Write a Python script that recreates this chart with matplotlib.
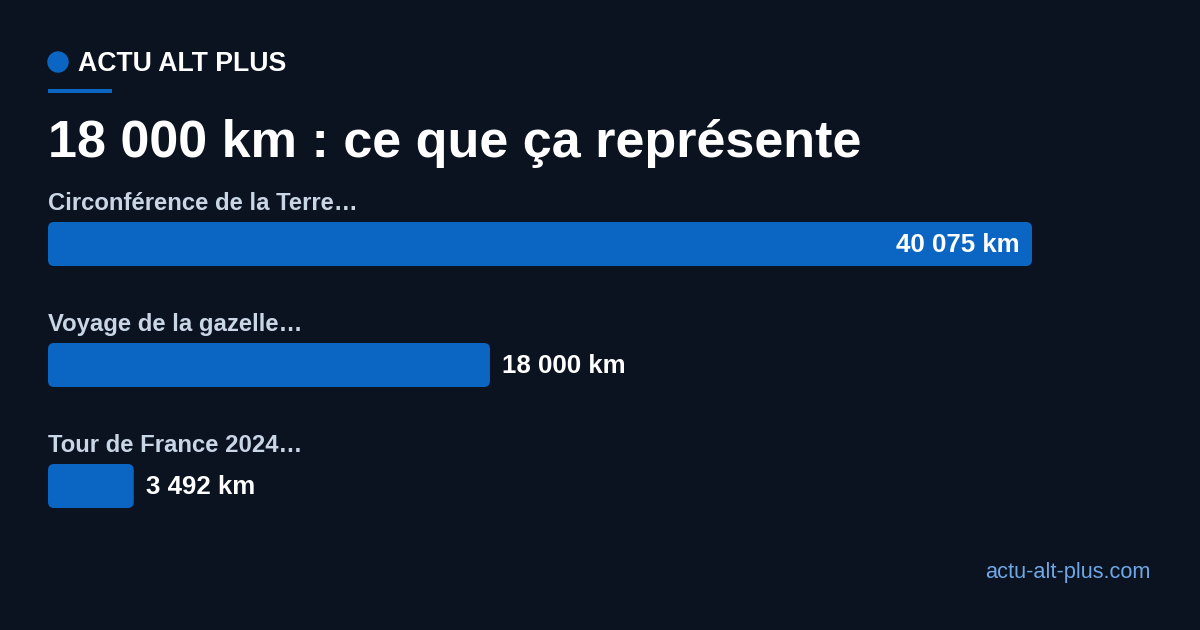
import numpy as np
import matplotlib
matplotlib.use("Agg")
import matplotlib.pyplot as plt
from matplotlib.patches import FancyBboxPatch, Ellipse, Rectangle

plt.rcParams['font.family'] = ['Liberation Sans', 'DejaVu Sans']

labels = ["Circonférence de la Terre…", "Voyage de la gazelle…", "Tour de France 2024…"]
values = [40075, 18000, 3492]
value_labels = ["40 075 km", "18 000 km", "3 492 km"]

BG = "#0b1220"
BAR = "#0b66c3"
LABEL = "#c9d6e6"

W, H = 1200, 630
fig = plt.figure(figsize=(W / 100, H / 100), dpi=100, facecolor=BG)
ax = fig.add_axes([0, 0, 1, 1])
ax.set_facecolor(BG)
ax.axis("off")

# x axis in km: 0 at 48 px, max value at 1032 px; y axis in pixels
left, right = 48, 1032
k = max(values) / (right - left)  # km per pixel
ax.set_xlim(-left * k, (W - left) * k)
ax.set_ylim(H, 0)

# header
fig.add_artist(Ellipse((58 / W, 1 - 62 / H), 20 / W, 20 / H, transform=fig.transFigure,
                       color=BAR))
fig.text(78 / W, 1 - 71 / H, "ACTU ALT PLUS", color="white", fontsize=19.2,
         fontweight="bold", va="baseline", ha="left")
fig.add_artist(Rectangle((48 / W, 1 - 93 / H), 64 / W, 4 / H, transform=fig.transFigure,
                         color=BAR, lw=0))
fig.text(48 / W, 1 - 157 / H, "18 000 km : ce que ça représente", color="white",
         fontsize=37.5, fontweight="bold", va="baseline", ha="left")

bar_top = [222, 343, 464]
bar_h = 44
r = 6 * k
for lab, v, vl, top in zip(labels, values, value_labels, bar_top):
    ax.text(0, top - 12, lab, color=LABEL, fontsize=17.2, fontweight="bold",
            va="baseline", ha="left")
    ax.add_patch(FancyBboxPatch((0, top), v, bar_h,
                                boxstyle=f"round,pad=0,rounding_size={r}",
                                mutation_aspect=1 / k, fc=BAR, ec="none"))
    if v > 0.5 * max(values):
        ax.text(v - 12 * k, top + 30, vl, color="white", fontsize=18.6,
                fontweight="bold", va="baseline", ha="right")
    else:
        ax.text(v + 12 * k, top + 30, vl, color="white", fontsize=18.6,
                fontweight="bold", va="baseline", ha="left")

fig.text(1151 / W, 1 - 578 / H, "actu-alt-plus.com", color="#6fa8e6", fontsize=15.7,
         va="baseline", ha="right")

fig.savefig("out.png", dpi=100, facecolor=BG)
